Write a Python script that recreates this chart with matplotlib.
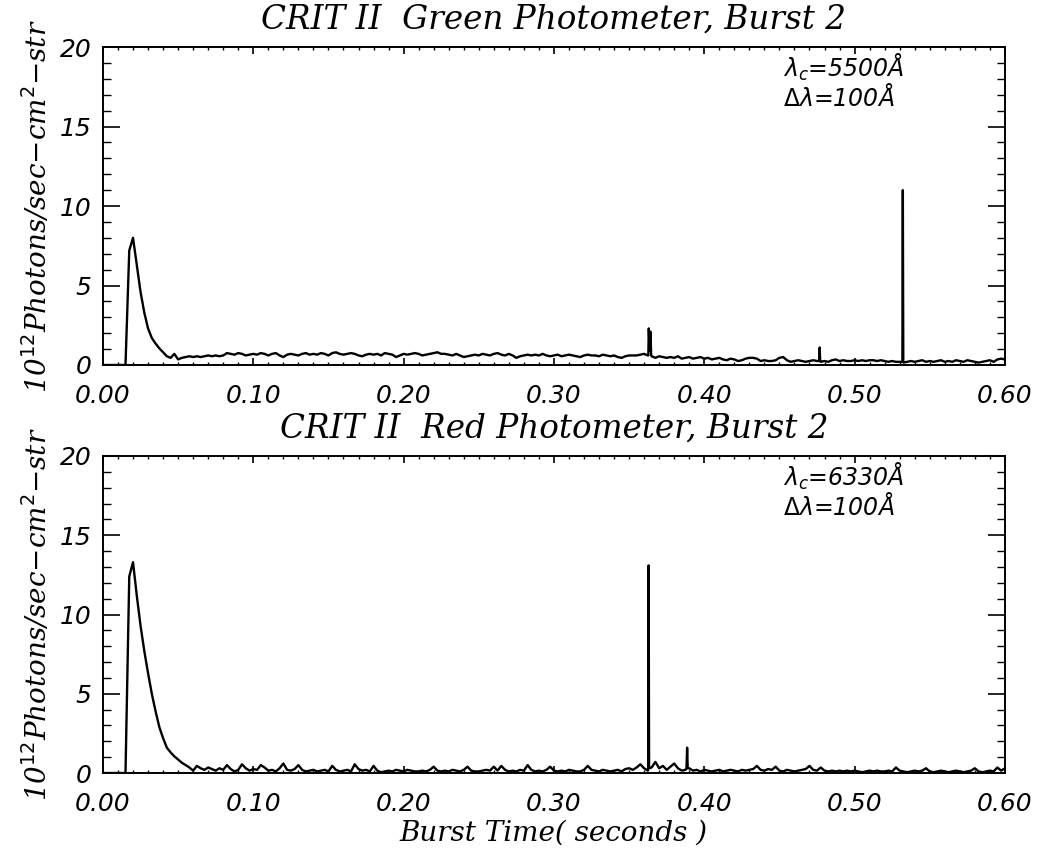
import numpy as np
import matplotlib
matplotlib.use("Agg")
import matplotlib.pyplot as plt
from matplotlib.ticker import MultipleLocator

# sample grid (seconds)
t_start = 0.0
t_step = 0.0025

# Green photometer, one value per grid step (10^12 photons/sec-cm^2-str)
green_vals = [0, 0, 0, 0, 0, 0, 0, 7.2, 8.0, 6.3,
              4.6, 3.3, 2.3, 1.7, 1.35, 1.05, 0.8, 0.55, 0.45, 0.7,
              0.35,
              0.45, 0.5, 0.55, 0.5, 0.55, 0.5, 0.55, 0.6, 0.55, 0.6,
              0.55, 0.6, 0.75, 0.7, 0.65, 0.75, 0.7, 0.6, 0.65, 0.7,
              0.65, 0.75, 0.7, 0.6, 0.7, 0.75, 0.6, 0.5, 0.65, 0.7,
              0.65, 0.6, 0.7, 0.75, 0.65, 0.7, 0.65, 0.75, 0.7, 0.6,
              0.75, 0.8, 0.7, 0.65, 0.7, 0.75, 0.7, 0.6, 0.55, 0.65,
              0.7, 0.65, 0.7, 0.6, 0.75, 0.7, 0.65, 0.5, 0.6, 0.7,
              0.65, 0.7, 0.75, 0.7, 0.6, 0.65, 0.7, 0.75, 0.8, 0.7,
              0.7, 0.65, 0.6, 0.7, 0.6, 0.5, 0.55, 0.6, 0.65, 0.6,
              0.7, 0.65, 0.6, 0.7, 0.75, 0.65, 0.6, 0.7, 0.6, 0.45,
              0.55, 0.6, 0.65, 0.6, 0.65, 0.6, 0.7, 0.6, 0.55, 0.6,
              0.65, 0.55, 0.6, 0.65, 0.6, 0.55, 0.5, 0.6, 0.65, 0.6,
              0.6, 0.55, 0.65, 0.6, 0.55, 0.6, 0.5, 0.45, 0.55, 0.6,
              0.6, 0.6, 0.65, 0.7,
              0.6, 0.55, 0.45, 0.55, 0.5, 0.45,
              0.5, 0.45, 0.55, 0.4, 0.45, 0.5, 0.4, 0.45, 0.5, 0.4,
              0.45, 0.35, 0.4, 0.45, 0.35, 0.3, 0.4, 0.35, 0.25, 0.3,
              0.4, 0.45, 0.45, 0.4, 0.25, 0.3, 0.25, 0.25, 0.3, 0.45,
              0.5, 0.3, 0.2, 0.25, 0.3, 0.25, 0.2, 0.25, 0.3, 0.25,
              0.2, 0.25, 0.2, 0.3, 0.35, 0.25, 0.3, 0.25, 0.25, 0.3,
              0.25, 0.3, 0.25, 0.3, 0.3, 0.25, 0.3, 0.25, 0.2, 0.25,
              0.2, 0.2, 0.15, 0.2, 0.25, 0.2, 0.25, 0.3, 0.2, 0.25,
              0.2, 0.25, 0.3, 0.2, 0.25, 0.2, 0.3, 0.25, 0.2, 0.3,
              0.25, 0.2, 0.15, 0.2, 0.25, 0.3, 0.2, 0.35, 0.4, 0.35]

# narrow spikes in the green channel (time, value)
green_spike_t = [0.3628, 0.3631, 0.3637, 0.3642, 0.3647,
                 0.4765, 0.4768, 0.4771,
                 0.5318, 0.5321, 0.5324]
green_spike_v = [0.6, 2.3, 0.9, 2.1, 0.6,
                 0.25, 1.1, 0.25,
                 0.2, 11.0, 0.2]

# Red photometer
red_vals = [0, 0, 0, 0, 0, 0, 0, 12.4, 13.3, 11.2,
            9.3, 7.7, 6.3, 5.0, 3.9, 2.9, 2.2, 1.6, 1.3, 1.05,
            0.85, 0.65, 0.5, 0.35, 0.15,
            0.45, 0.3, 0.2, 0.35, 0.25, 0.15, 0.3, 0.2, 0.5, 0.25,
            0.1, 0.2, 0.55, 0.3, 0.15, 0.25, 0.2, 0.5, 0.35, 0.15,
            0.2, 0.1, 0.3, 0.6, 0.2, 0.15, 0.25, 0.5, 0.2, 0.1,
            0.15, 0.2, 0.1, 0.15, 0.2, 0.1, 0.45, 0.2, 0.1, 0.15,
            0.2, 0.1, 0.55, 0.25, 0.15, 0.2, 0.1, 0.45, 0.15, 0.05,
            0.1, 0.15, 0.1, 0.2, 0.15, 0.1, 0.2, 0.15, 0.1, 0.1,
            0.15, 0.1, 0.2, 0.4, 0.15, 0.1, 0.15, 0.1, 0.2, 0.15,
            0.1, 0.2, 0.4, 0.15, 0.1, 0.1, 0.15, 0.2, 0.15, 0.4,
            0.15, 0.45, 0.2, 0.1, 0.15, 0.1, 0.2, 0.15, 0.5, 0.2,
            0.1, 0.15, 0.1, 0.2, 0.4, 0.15, 0.1, 0.15, 0.1, 0.2,
            0.15, 0.1, 0.1, 0.2, 0.45, 0.2, 0.15, 0.1, 0.2, 0.15,
            0.1, 0.15, 0.2, 0.1, 0.25, 0.3, 0.2, 0.35, 0.55, 0.3,
            0.15, 0.35, 0.7, 0.3, 0.45, 0.2, 0.4, 0.6, 0.3, 0.15,
            0.2, 0.3, 0.15, 0.2, 0.1, 0.2, 0.15, 0.1, 0.15, 0.2,
            0.1, 0.15, 0.2, 0.15, 0.1, 0.2, 0.15, 0.2, 0.25, 0.45,
            0.2, 0.15, 0.25, 0.2, 0.4, 0.15, 0.1, 0.2, 0.15, 0.1,
            0.15, 0.2, 0.25, 0.45, 0.2, 0.15, 0.35, 0.15, 0.1, 0.15,
            0.1, 0.15, 0.1, 0.15, 0.1, 0.15, 0.1, 0.05, 0.1, 0.15,
            0.1, 0.15, 0.1, 0.1, 0.15, 0.1, 0.35, 0.15, 0.1, 0.05,
            0.1, 0.15, 0.1, 0.15, 0.3, 0.1, 0.05, 0.1, 0.15, 0.1,
            0.05, 0.1, 0.15, 0.1, 0.05, 0.1, 0.15, 0.3, 0.1, 0.05,
            0.1, 0.15, 0.1, 0.35, 0.15, 0.3]

red_spike_t = [0.3627, 0.3630, 0.3633, 0.3882, 0.3886, 0.3890]
red_spike_v = [0.3, 13.1, 0.3, 0.3, 1.6, 0.3]

titles = ["CRIT II  Green Photometer, Burst 2",
          "CRIT II  Red Photometer, Burst 2"]
lam_labels = [r"$\lambda_c$=5500Å", r"$\lambda_c$=6330Å"]
dlam_label = r"$\Delta\lambda$=100Å"
ylabel = r"10$^{12}$Photons/sec$-$cm$^2$$-$str"
xlabel = "Burst Time( seconds )"
xticks = [0.0, 0.1, 0.2, 0.3, 0.4, 0.5, 0.6]
yticks = [0, 5, 10, 15, 20]


def merge(vals, st, sv):
    t = t_start + t_step * np.arange(len(vals))
    tt = np.concatenate([t, st])
    vv = np.concatenate([vals, sv])
    order = np.argsort(tt, kind="stable")
    return tt[order], vv[order]


plt.rcParams["mathtext.fontset"] = "dejavusans"
plt.rcParams["mathtext.default"] = "it"

fig = plt.figure(figsize=(10.42, 8.52), dpi=100)
ax1 = fig.add_axes([0.0988, 0.5716, 0.8656, 0.3732])
ax2 = fig.add_axes([0.0988, 0.0927, 0.8656, 0.3721])

series = [(green_vals, green_spike_t, green_spike_v),
          (red_vals, red_spike_t, red_spike_v)]

for k, ax in enumerate([ax1, ax2]):
    vals, st, sv = series[k]
    t, v = merge(vals, st, sv)
    ax.plot(t, v, color="black", lw=1.7)
    ax.set_xlim(0, 0.6)
    ax.set_ylim(0, 20)
    ax.set_xticks(xticks)
    ax.set_xticklabels(["%.2f" % x for x in xticks])
    ax.set_yticks(yticks)
    ax.set_yticklabels([str(y) for y in yticks])
    ax.xaxis.set_minor_locator(MultipleLocator(0.01))
    ax.yaxis.set_minor_locator(MultipleLocator(1))
    ax.tick_params(axis="x", which="major", direction="in", length=5,
                   width=1.2, top=True, pad=14)
    ax.tick_params(axis="x", which="minor", direction="in", length=2.5,
                   width=1.0, top=True)
    ax.tick_params(axis="y", which="major", direction="in", length=12,
                   width=1.2, right=True, pad=8)
    ax.tick_params(axis="y", which="minor", direction="in", length=6,
                   width=1.0, right=True)
    for lab in ax.get_xticklabels() + ax.get_yticklabels():
        lab.set_fontfamily("DejaVu Sans")
        lab.set_fontstyle("oblique")
        lab.set_fontsize(18)
    for sp in ax.spines.values():
        sp.set_linewidth(1.4)
    ax.set_title(titles[k], fontsize=23.5, family="DejaVu Serif",
                 style="italic", pad=13)
    ax.set_ylabel(ylabel, fontsize=20, family="DejaVu Serif",
                  style="italic", labelpad=5)
    ax.text(0.754, 0.935, lam_labels[k], transform=ax.transAxes,
            fontsize=17, family="DejaVu Sans", style="oblique",
            va="center")
    ax.text(0.754, 0.84, dlam_label, transform=ax.transAxes,
            fontsize=17, family="DejaVu Sans", style="oblique",
            va="center")

ax2.set_xlabel(xlabel, fontsize=20, family="DejaVu Serif", style="italic",
               labelpad=2)

fig.savefig("out.png", dpi=100)
